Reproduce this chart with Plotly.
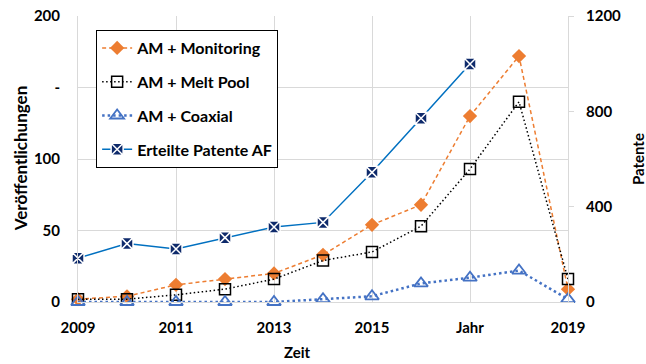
import plotly.graph_objects as go

years = [2009, 2010, 2011, 2012, 2013, 2014, 2015, 2016, 2017, 2018, 2019]
monitoring = [2, 4, 12, 16, 20, 33, 54, 68, 130, 172, 9]
melt_pool = [2, 2, 5, 9, 16, 29, 35, 53, 93, 140, 16]
coaxial = [0, 0, 0, 0, 0, 2, 4, 13, 17, 22, 2]
patent_years = [2009, 2010, 2011, 2012, 2013, 2014, 2015, 2016, 2017]
patents = [184, 245, 222, 270, 315, 334, 544, 771, 999]

x_tickvals = [2009, 2011, 2013, 2015, 2017, 2019]
x_ticktext = ["2009", "2011", "2013", "2015", "Jahr", "2019"]
y_tickvals = [0, 50, 100, 150, 200]
y_ticktext = ["0", "50", "100", "-", "200"]
y2_tickvals = [0, 400, 800, 1200]

FONT = "Lato"
bold = dict(family=FONT, size=15, color="#000000", weight="bold")

fig = go.Figure()
fig.add_trace(go.Scatter(
    x=years, y=monitoring, name="AM + Monitoring", mode="lines+markers",
    line=dict(color="#ED7D31", width=1.5, dash="4px,3px"),
    marker=dict(symbol="diamond", size=11, color="#ED7D31"),
    cliponaxis=False, legendgroup="a"))
fig.add_trace(go.Scatter(
    x=years, y=melt_pool, name="AM + Melt Pool", mode="lines+markers",
    line=dict(color="#000000", width=1.5, dash="1.5px,2.5px"),
    marker=dict(symbol="square-open", size=11, color="#000000", line=dict(width=1.5)),
    cliponaxis=False, legendgroup="b"))
fig.add_trace(go.Scatter(
    x=years, y=coaxial, name="AM + Coaxial", mode="lines+markers",
    line=dict(color="#4472C4", width=2.5, dash="2.5px,3px"),
    marker=dict(symbol="triangle-up-open", size=12, color="#4472C4", line=dict(width=1.8)),
    cliponaxis=False, legendgroup="c"))
fig.add_trace(go.Scatter(
    x=patent_years, y=patents, name="Erteilte Patente AF", mode="lines+markers",
    yaxis="y2",
    line=dict(color="#0070C0", width=1.5),
    marker=dict(symbol="square-x", size=12, color="#0E2A6B",
                line=dict(color="#FFFFFF", width=1.5)),
    cliponaxis=False, legendgroup="d"))

fig.update_layout(
    width=646, height=364,
    margin=dict(l=78, r=78, t=16, b=62, autoexpand=False),
    paper_bgcolor="white", plot_bgcolor="white",
    font=bold,
    showlegend=True,
    legend=dict(
        x=0.037, y=0.951, xanchor="left", yanchor="top",
        bgcolor="white", bordercolor="#000000", borderwidth=1,
        font=dict(family=FONT, size=16, color="#000000", weight="bold"),
        traceorder="grouped", tracegroupgap=10, itemwidth=30,
    ),
    xaxis=dict(
        range=[2009, 2019], tickvals=x_tickvals, ticktext=x_ticktext,
        showgrid=True, gridcolor="#D9D9D9", gridwidth=1,
        showline=True, linecolor="#D9D9D9", linewidth=1,
        zeroline=False, ticks="", tickfont=bold, ticklabelstandoff=12,
        automargin=False,
    ),
    yaxis=dict(
        range=[0, 200], tickvals=y_tickvals, ticktext=y_ticktext,
        showgrid=True, gridcolor="#D9D9D9", gridwidth=1,
        showline=True, linecolor="#D9D9D9", linewidth=1,
        zeroline=False, ticks="", tickfont=bold, ticklabelstandoff=14,
        automargin=False,
    ),
    yaxis2=dict(
        range=[0, 1200], tickvals=y2_tickvals, overlaying="y", side="right",
        showgrid=False, showline=True, linecolor="#D9D9D9", linewidth=1,
        zeroline=False, ticks="outside", ticklen=5, tickcolor="#D9D9D9",
        tickfont=bold, ticklabelstandoff=9, automargin=False,
    ),
    annotations=[
        dict(text="Veröffentlichungen", xref="paper", yref="paper", x=-0.118, y=0.5,
             xanchor="center", yanchor="middle", textangle=-90, showarrow=False,
             font=dict(family=FONT, size=17, color="#000000", weight="bold")),
        dict(text="Patente", xref="paper", yref="paper", x=1.143, y=0.5,
             xanchor="center", yanchor="middle", textangle=-90, showarrow=False,
             font=dict(family=FONT, size=15, color="#000000", weight="bold")),
        dict(text="Zeit", xref="paper", yref="paper", x=0.447, y=-0.175,
             xanchor="center", yanchor="middle", showarrow=False,
             font=dict(family=FONT, size=15, color="#000000", weight="bold")),
    ],
)

fig.write_html(
    "out.html",
    config={"displayModeBar": False},
    post_script="document.body.style.margin='0';document.body.style.overflow='hidden';",
)
